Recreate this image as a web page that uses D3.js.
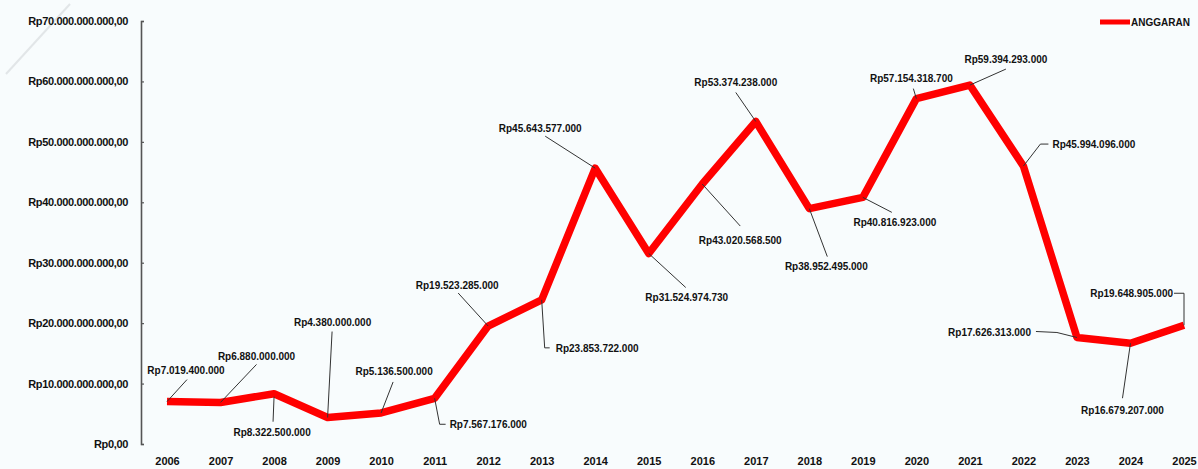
<!DOCTYPE html>
<html>
<head>
<meta charset="utf-8">
<script src="https://cdn.jsdelivr.net/npm/d3@7"></script>
<style>
  html, body { margin: 0; padding: 0; background: #f8fcfd; }
  svg { display: block; font-family: "Liberation Sans", Arial, sans-serif; }
</style>
</head>
<body>
<div id="chart"></div>
<script>
// Data
const years = ["2006", "2007", "2008", "2009", "2010", "2011", "2012", "2013", "2014", "2015",
               "2016", "2017", "2018", "2019", "2020", "2021", "2022", "2023", "2024", "2025"];
const anggaran = [7019400000, 6880000000, 8322500000, 4380000000, 5136500000, 7567176000,
                  19523285000, 23853722000, 45643577000, 31524974730, 43020568500, 53374238000,
                  38952495000, 40816923000, 57154318700, 59394293000, 45994096000, 17626313000,
                  16679207000, 19648905000];
const yTicks = [0, 10e9, 20e9, 30e9, 40e9, 50e9, 60e9, 70e9];
const seriesName = "ANGGARAN";

// Label placement, offsets from each point (text anchor, text offset, leader path)
const labelLayout = [
  { a: "middle", t: [19, -31], p: [[0, 0], [20, -22]] },
  { a: "middle", t: [36, -46], p: [[0, 0], [36, -38]] },
  { a: "middle", t: [-2, 39],  p: [[0, 3], [-1, 28]] },
  { a: "middle", t: [5, -95],  p: [[0, 0], [4.5, -86]] },
  { a: "middle", t: [13, -41], p: [[0, 0], [12, -31]] },
  { a: "start",  t: [15, 26],  p: [[0, 0], [5, 26], [11, 26]] },
  { a: "middle", t: [-31, -41], p: [[0, 0], [-30, -33]] },
  { a: "start",  t: [14, 49],  p: [[0, 0], [3, 48], [8, 48]] },
  { a: "middle", t: [-55, -40], p: [[0, 0], [-50, -32]] },
  { a: "middle", t: [38, 44],  p: [[0, 0], [37, 34]] },
  { a: "middle", t: [38, 56],  p: [[0, 0], [38, 42]] },
  { a: "middle", t: [-20, -39], p: [[0, 0], [-20, -29]] },
  { a: "middle", t: [17, 58],  p: [[0, 0], [18, 48]] },
  { a: "middle", t: [32, 25],  p: [[0, 0], [29, 15]] },
  { a: "middle", t: [-5, -20], p: [[0, 0], [-3, -10]] },
  { a: "middle", t: [36, -26], p: [[0, 0], [36, -16]] },
  { a: "start",  t: [29, -22], p: [[0, 0], [17, -22], [25, -22]] },
  { a: "end",    t: [-46, -5], p: [[0, 0], [-20, -5], [-41, -6]] },
  { a: "middle", t: [-8, 67],  p: [[0, 0], [-8, 55]] },
  { a: "end",    t: [-11, -32], p: [[0, 0], [0, -32], [-10, -32]] }
];

const width = 1198, height = 469;

const idr = d3.formatLocale({ decimal: ",", thousands: ".", grouping: [3], currency: ["Rp", ""] });
const fmtTick = idr.format("$,.2f");
const fmtVal = idr.format("$,.0f");

const svg = d3.select("#chart").append("svg")
    .attr("width", width)
    .attr("height", height);

svg.append("rect")
    .attr("width", width)
    .attr("height", height)
    .attr("fill", "#f8fcfd");

// faint decoration in the top-left corner
svg.append("line")
    .attr("x1", 70).attr("y1", 4)
    .attr("x2", 6).attr("y2", 74)
    .attr("stroke", "#e2e6e8")
    .attr("stroke-width", 2);

const x = d3.scalePoint()
    .domain(years)
    .range([167, 1184]);

const y = d3.scaleLinear()
    .domain([0, 70e9])
    .range([444, 21]);

// Y axis
const yAxis = svg.append("g")
    .attr("transform", "translate(141,0)")
    .call(d3.axisLeft(y)
        .tickValues(yTicks)
        .tickSizeInner(-3)
        .tickSizeOuter(-3)
        .tickPadding(13)
        .tickFormat(fmtTick));
yAxis.select(".domain").attr("stroke", "#555").attr("stroke-width", 1.6);
yAxis.selectAll(".tick line").attr("stroke", "#555").attr("stroke-width", 1.2);
yAxis.selectAll("text")
    .attr("fill", "#111")
    .style("font-size", "11px")
    .style("letter-spacing", "-0.35px")
    .style("font-weight", "bold");

// X axis (labels only)
const xAxis = svg.append("g")
    .attr("transform", "translate(0,457)")
    .call(d3.axisBottom(x).tickSize(0).tickPadding(0));
xAxis.select(".domain").remove();
xAxis.selectAll("text")
    .attr("fill", "#111")
    .style("font-size", "11px")
    .style("font-weight", "bold");

// Line
const pts = years.map((yr, i) => ({ yr: yr, v: anggaran[i], i: i }));

svg.append("path")
    .datum(pts)
    .attr("fill", "none")
    .attr("stroke", "#ff0000")
    .attr("stroke-width", 7.5)
    .attr("stroke-linejoin", "round")
    .attr("d", d3.line()
        .x(d => x(d.yr))
        .y(d => y(d.v)));

// Leader lines and value labels
const lbl = svg.append("g").selectAll("g")
    .data(pts)
    .enter().append("g")
    .attr("transform", d => "translate(" + x(d.yr) + "," + y(d.v) + ")");

lbl.append("path")
    .attr("fill", "none")
    .attr("stroke", "#333")
    .attr("stroke-width", 1)
    .attr("d", d => d3.line()(labelLayout[d.i].p));

lbl.append("text")
    .attr("x", d => labelLayout[d.i].t[0])
    .attr("y", d => labelLayout[d.i].t[1])
    .attr("dy", "0.35em")
    .attr("text-anchor", d => labelLayout[d.i].a)
    .attr("fill", "#111")
    .style("font-size", "10px")
    .style("font-weight", "bold")
    .text(d => fmtVal(d.v));

// Legend
const legend = svg.append("g").attr("transform", "translate(1100,22)");
legend.append("line")
    .attr("x1", 0).attr("x2", 30)
    .attr("stroke", "#ff0000")
    .attr("stroke-width", 5);
legend.append("text")
    .attr("x", 31)
    .attr("dy", "0.35em")
    .attr("fill", "#111")
    .style("font-size", "10px")
    .style("font-weight", "bold")
    .text(seriesName);
</script>
</body>
</html>
